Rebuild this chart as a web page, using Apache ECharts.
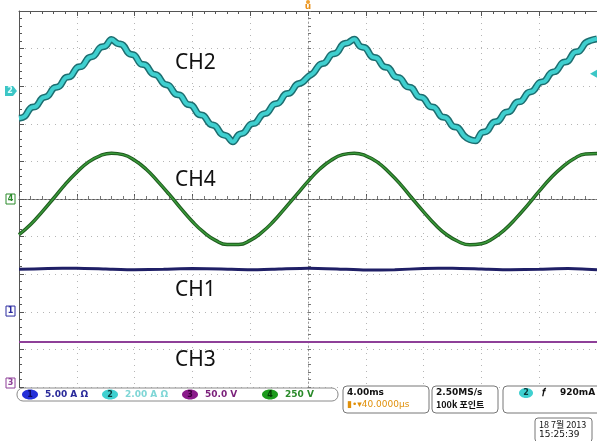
<!DOCTYPE html>
<html><head><meta charset="utf-8">
<script src="https://cdn.jsdelivr.net/npm/echarts@6/dist/echarts.min.js"></script>
<style>html,body{margin:0;padding:0;background:#fff}#c{width:597px;height:441px}</style>
</head><body><div id="c"></div>
<script>
// time in ms (4 ms/div), amplitude in divisions
const ch2Times = [-20,-19.6,-19.2,-18.8,-18.4,-18,-17.6,-17.2,-16.8,-16.4,-16,-15.6,-15.2,-14.8,-14.4,-14,-13.6,-13.2,-12.8,-12.4,-12,-11.6,-11.2,-10.8,-10.4,-10,-9.6,-9.2,-8.8,-8.4,-8,-7.6,-7.2,-6.8,-6.4,-6,-5.6,-5.2,-4.8,-4.4,-4,-3.6,-3.2,-2.8,-2.4,-2,-1.6,-1.2,-0.8,-0.4,0,0.4,0.8,1.2,1.6,2,2.4,2.8,3.2,3.6,4,4.4,4.8,5.2,5.6,6,6.4,6.8,7.2,7.6,8,8.4,8.8,9.2,9.6,10,10.4,10.8,11.2,11.6,12,12.4,12.8,13.2,13.6,14,14.4,14.8,15.2,15.6,16,16.4,16.8,17.2,17.6,18,18.4,18.8,19.2,19.6,20];
const ch2Values = [2.15,2.20,2.42,2.47,2.68,2.74,2.95,3.00,3.22,3.27,3.49,3.54,3.75,3.81,4.02,4.07,4.24,4.14,4.09,3.87,3.82,3.60,3.55,3.34,3.28,3.07,3.01,2.80,2.75,2.53,2.48,2.26,2.21,2.00,1.94,1.73,1.67,1.52,1.71,1.77,1.98,2.03,2.24,2.30,2.51,2.56,2.78,2.83,3.04,3.10,3.25,3.36,3.57,3.63,3.84,3.89,4.11,4.16,4.25,4.06,4.01,3.79,3.74,3.53,3.48,3.26,3.21,3.00,2.95,2.73,2.68,2.47,2.42,2.20,2.15,1.94,1.89,1.68,1.58,1.55,1.76,1.81,2.03,2.08,2.29,2.34,2.56,2.61,2.82,2.88,3.09,3.14,3.35,3.41,3.62,3.67,3.89,3.94,4.15,4.22,4.26];
const ch4Times = [-20,-19.2,-18.4,-17.6,-16.8,-16,-15.2,-14.4,-13.6,-12.8,-12,-11.2,-10.4,-9.6,-8.8,-8,-7.2,-6.4,-5.6,-4.8,-4,-3.2,-2.4,-1.6,-0.8,0,0.8,1.6,2.4,3.2,4,4.8,5.6,6.4,7.2,8,8.8,9.6,10.4,11.2,12,12.8,13.6,14.4,15.2,16,16.8,17.6,18.4,19.2,20];
const ch4Values = [-0.95,-0.68,-0.34,0.02,0.39,0.71,0.98,1.15,1.22,1.18,1.03,0.79,0.47,0.12,-0.25,-0.60,-0.89,-1.10,-1.21,-1.21,-1.10,-0.89,-0.60,-0.25,0.11,0.47,0.79,1.03,1.18,1.22,1.15,0.98,0.71,0.39,0.02,-0.34,-0.68,-0.95,-1.13,-1.22,-1.19,-1.05,-0.82,-0.51,-0.16,0.21,0.56,0.85,1.07,1.20,1.21];
const ch1Times = [-20,-18,-16,-14,-12,-10,-8,-6,-4,-2,0,2,4,6,8,10,12,14,16,18,20];
const ch1Values = [-1.87,-1.85,-1.84,-1.86,-1.88,-1.87,-1.85,-1.86,-1.88,-1.86,-1.84,-1.86,-1.89,-1.88,-1.85,-1.84,-1.86,-1.88,-1.87,-1.85,-1.88];
const ch3Times = [-20,20];
const ch3Values = [-3.80,-3.80];
const channelLabels = ['CH2','CH4','CH1','CH3'];
const channelRefs = [2.87, 0, -2.98, -5];   // ref markers for ch 2,4,1,3
const channelRefNames = ['2','4','1','3'];
const scaleTexts = ['5.00 A Ω','2.00 A Ω','50.0 V','250 V'];
const timeMin = -20, timeMax = 20, timeDiv = 4;
const divMin = -5, divMax = 5;

const pairs = (t, v) => t.map((x, i) => [x, v[i]]);
const chart = echarts.init(document.getElementById('c'), null, {renderer: 'canvas'});
const frameAxis = (pos) => ({
  type: 'value', min: timeMin, max: timeMax, interval: timeDiv, position: pos, gridIndex: 0,
  axisLine: {show: true, lineStyle: {color: '#555', width: 1}},
  axisTick: {show: true, inside: true, length: 5, lineStyle: {color: '#555'}},
  minorTick: {show: true, splitNumber: 5, length: 3, lineStyle: {color: '#555'}},
  axisLabel: {show: false},
  splitLine: {show: pos === 'bottom', lineStyle: {color: '#b5b5b5', type: [1, 5]}}
});
const option = {
  animation: false,
  backgroundColor: '#fff',
  grid: [
    {left: 19, top: 11, width: 578, height: 376},
    {left: 19, top: 11, width: 578, height: 376}
  ],
  xAxis: [
    frameAxis('bottom'),
    frameAxis('top'),
    {type: 'value', gridIndex: 1, min: timeMin, max: timeMax, interval: timeDiv,
     axisLine: {show: true, onZero: true, lineStyle: {color: '#9a9a9a', type: [1, 3]}},
     axisTick: {show: true, length: 3, inside: true, lineStyle: {color: '#777'}},
     minorTick: {show: true, splitNumber: 5, length: 3, lineStyle: {color: '#777'}},
     axisLabel: {show: false}, splitLine: {show: false}}
  ],
  yAxis: [
    {type: 'value', gridIndex: 0, min: divMin, max: divMax, interval: 1, position: 'left',
     axisLine: {show: true, onZero: false, lineStyle: {color: '#555', width: 1}},
     axisTick: {show: true, inside: true, length: 5, lineStyle: {color: '#555'}},
     minorTick: {show: true, splitNumber: 5, length: 3, lineStyle: {color: '#555'}},
     axisLabel: {show: false},
     splitLine: {show: true, lineStyle: {color: '#b5b5b5', type: [1, 5]}}},
    {type: 'value', gridIndex: 1, min: divMin, max: divMax, interval: 1,
     axisLine: {show: true, onZero: true, lineStyle: {color: '#9a9a9a', type: [1, 3]}},
     axisTick: {show: true, length: 3, inside: true, lineStyle: {color: '#777'}},
     minorTick: {show: true, splitNumber: 5, length: 3, lineStyle: {color: '#777'}},
     axisLabel: {show: false}, splitLine: {show: false}}
  ],
  series: [
    {name: 'CH3', type: 'line', data: pairs(ch3Times, ch3Values), showSymbol: false,
     lineStyle: {color: '#8e3f98', width: 2}},
    {name: 'CH1', type: 'line', data: pairs(ch1Times, ch1Values), showSymbol: false, smooth: 0.2,
     lineStyle: {color: '#1f1f66', width: 3}},
    {name: 'CH4', type: 'line', data: pairs(ch4Times, ch4Values), showSymbol: false, smooth: true,
     lineStyle: {color: '#1e5a1e', width: 3.5}},
    {name: 'CH4i', type: 'line', data: pairs(ch4Times, ch4Values), showSymbol: false, smooth: true,
     lineStyle: {color: '#3a9a3a', width: 1.5}},
    {name: 'CH2o', type: 'line', data: pairs(ch2Times, ch2Values), showSymbol: false, smooth: 0.4,
     lineStyle: {color: '#1d6e70', width: 7}},
    {name: 'CH2', type: 'line', data: pairs(ch2Times, ch2Values), showSymbol: false, smooth: 0.4,
     lineStyle: {color: '#3fcfcf', width: 4}}
  ]
};
chart.setOption(option);

// decorations
const g = [];
const labelPos = [[175, 63], [175, 180], [175, 290], [175, 360]];
channelLabels.forEach((s, i) => g.push({type: 'text', x: labelPos[i][0], y: labelPos[i][1],
  style: {text: s, font: '21px "Noto Sans", sans-serif', fill: '#111', verticalAlign: 'middle'}}));
const refColors = ['#3cc6c6', '#2a8a2a', '#2a2aa0', '#8e3f98'];
channelRefNames.forEach((n, i) => {
  const p = chart.convertToPixel({gridIndex: 0}, [timeMin, channelRefs[i]]);
  const y = Math.min(p[1], 383);
  if (i === 0) {
    g.push({type: 'polygon', shape: {points: [[5, y - 5], [13, y - 5], [17, y], [13, y + 5], [5, y + 5]]}, style: {fill: refColors[i]}});
    g.push({type: 'text', x: 10, y: y, style: {text: n, font: 'bold 8px "DejaVu Sans"', fill: '#e0ffff', align: 'center', verticalAlign: 'middle'}});
  } else {
    g.push({type: 'rect', shape: {x: 6, y: y - 5, width: 9, height: 10}, style: {fill: '#fff', stroke: refColors[i], lineWidth: 1}});
    g.push({type: 'text', x: 10.5, y: y, style: {text: n, font: 'bold 8px "DejaVu Sans"', fill: refColors[i], align: 'center', verticalAlign: 'middle'}});
  }
});
// trigger position marker
const tp = chart.convertToPixel({gridIndex: 0}, [0, divMax]);
g.push({type: 'circle', shape: {cx: tp[0], cy: 2, r: 2}, style: {fill: '#f0a030'}});
g.push({type: 'text', x: tp[0], y: 7, style: {text: 'u', font: 'bold 9px "DejaVu Sans"', fill: '#e8901a', align: 'center', verticalAlign: 'middle'}});
// trigger level marker
const tl = chart.convertToPixel({gridIndex: 0}, [timeMax, 3.33]);
g.push({type: 'polygon', shape: {points: [[tl[0] - 7, tl[1]], [tl[0], tl[1] - 4], [tl[0], tl[1] + 4]]}, style: {fill: '#3cc6c6'}});

// bottom status bar
g.push({type: 'rect', shape: {x: 17, y: 388, width: 321, height: 13, r: 6}, style: {fill: '#fff', stroke: '#8a8a8a', lineWidth: 1}});
const badgeX = [30, 110, 190, 270];
const badgeFill = ['#2430d8', '#3fd0d0', '#8a1a8a', '#1c9a1c'];
const badgeTxt = ['#0a0a60', '#0a3a3a', '#3a003a', '#053805'];
const scaleColor = ['#2a2a9a', '#7fd6d6', '#7a1f7a', '#2a8a2a'];
scaleTexts.forEach((s, i) => {
  g.push({type: 'ellipse', shape: {cx: badgeX[i], cy: 394.5, rx: 8, ry: 5}, style: {fill: badgeFill[i]}});
  g.push({type: 'text', x: badgeX[i], y: 394.5, style: {text: String(i + 1), font: 'bold 8px "DejaVu Sans"', fill: badgeTxt[i], align: 'center', verticalAlign: 'middle'}});
  g.push({type: 'text', x: badgeX[i] + 15, y: 394.5, style: {text: s, font: 'bold 9px "DejaVu Sans"', fill: scaleColor[i], verticalAlign: 'middle'}});
});
g.push({type: 'rect', shape: {x: 343, y: 386, width: 86, height: 27, r: 4}, style: {fill: '#fff', stroke: '#777', lineWidth: 1}});
g.push({type: 'text', x: 347, y: 393, style: {text: '4.00ms', font: 'bold 9px "DejaVu Sans"', fill: '#111', verticalAlign: 'middle'}});
g.push({type: 'text', x: 347, y: 405, style: {text: '▮•▾40.0000µs', font: '9px "DejaVu Sans"', fill: '#e0900a', verticalAlign: 'middle'}});
g.push({type: 'rect', shape: {x: 432, y: 386, width: 66, height: 27, r: 4}, style: {fill: '#fff', stroke: '#777', lineWidth: 1}});
g.push({type: 'text', x: 436, y: 393, style: {text: '2.50MS/s', font: 'bold 9px "DejaVu Sans"', fill: '#111', verticalAlign: 'middle'}});
g.push({type: 'text', x: 436, y: 405, style: {text: '100k 포인트', font: 'bold 9px "Noto Sans CJK KR", "DejaVu Sans"', fill: '#111', verticalAlign: 'middle'}});
g.push({type: 'rect', shape: {x: 503, y: 386, width: 100, height: 27, r: 4}, style: {fill: '#fff', stroke: '#777', lineWidth: 1}});
g.push({type: 'ellipse', shape: {cx: 526, cy: 393, rx: 7, ry: 5}, style: {fill: '#3fd0d0'}});
g.push({type: 'text', x: 526, y: 393, style: {text: '2', font: 'bold 8px "DejaVu Sans"', fill: '#0a3a3a', align: 'center', verticalAlign: 'middle'}});
g.push({type: 'text', x: 542, y: 393, style: {text: '𝑓', font: 'bold 11px "DejaVu Sans"', fill: '#111', verticalAlign: 'middle'}});
g.push({type: 'text', x: 560, y: 393, style: {text: '920mA', font: 'bold 9px "DejaVu Sans"', fill: '#111', verticalAlign: 'middle'}});
g.push({type: 'rect', shape: {x: 535, y: 418, width: 57, height: 24, r: 3}, style: {fill: '#fff', stroke: '#777', lineWidth: 1}});
g.push({type: 'text', x: 539, y: 425, style: {text: '18 7월 2013', font: '9px "Noto Sans CJK KR", "DejaVu Sans"', fill: '#111', verticalAlign: 'middle'}});
g.push({type: 'text', x: 539, y: 435, style: {text: '15:25:39', font: '9px "DejaVu Sans"', fill: '#111', verticalAlign: 'middle'}});
chart.setOption({graphic: {elements: g}});
</script></body></html>
